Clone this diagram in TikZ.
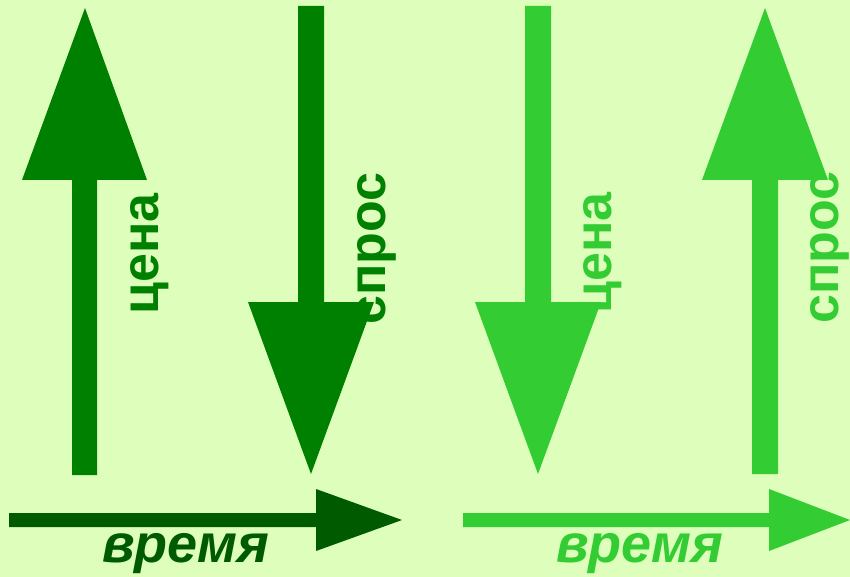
\documentclass[tikz,border=0pt]{standalone}
\usepackage{fontspec}
\setmainfont{Liberation Sans}
\definecolor{fon}{HTML}{DDFFBB}
\definecolor{temno}{HTML}{008000}
\definecolor{temnee}{HTML}{005A00}
\definecolor{svetlo}{HTML}{33CC33}
\begin{document}
\begin{tikzpicture}[x=1pt,y=-1pt,
    slovo/.style={font=\fontsize{52}{60}\selectfont\bfseries, inner sep=0pt, rotate=90, anchor=base west},
    vremya/.style={font=\fontsize{54}{62}\selectfont\bfseries\itshape, inner sep=0pt, anchor=base west}]

  % Fon
  \fill[fon] (0,0) rectangle (850,577);
  \useasboundingbox (0,0) rectangle (850,577);

  % Strelki vverkh i vniz
  \fill[temno] (72,475) -- (72,180) -- (22,180) -- (85,8) -- (147,180) -- (97,180) -- (97,475) -- cycle;
  \fill[temno] (298,6) -- (298,302) -- (248,302) -- (311,474) -- (374,302) -- (324,302) -- (324,6) -- cycle;
  \fill[svetlo] (525,6) -- (525,302) -- (475,302) -- (538,474) -- (601,302) -- (551,302) -- (551,6) -- cycle;
  \fill[svetlo] (752,474) -- (752,180) -- (702,180) -- (765,8) -- (828,180) -- (778,180) -- (778,474) -- cycle;

  % Os' vremeni
  \fill[temnee] (9,513) -- (316,513) -- (316,489) -- (402,520) -- (316,551) -- (316,527) -- (9,527) -- cycle;
  \fill[svetlo] (463,513) -- (769,513) -- (769,489) -- (850,520) -- (769,551) -- (769,527) -- (463,527) -- cycle;

  % Podpisi
  \node[slovo, text=temno] (cena1) at (158,315) {цена};
  \node[slovo, text=temno] (spros1) at (385,325) {спрос};
  \node[slovo, text=svetlo] (cena2) at (611,314) {цена};
  \node[slovo, text=svetlo] (spros2) at (838,324) {спрос};
  \node[vremya, text=temnee] (vremya1) at (102,562) {время};
  \node[vremya, text=svetlo] (vremya2) at (556,562) {время};

\end{tikzpicture}
\end{document}
